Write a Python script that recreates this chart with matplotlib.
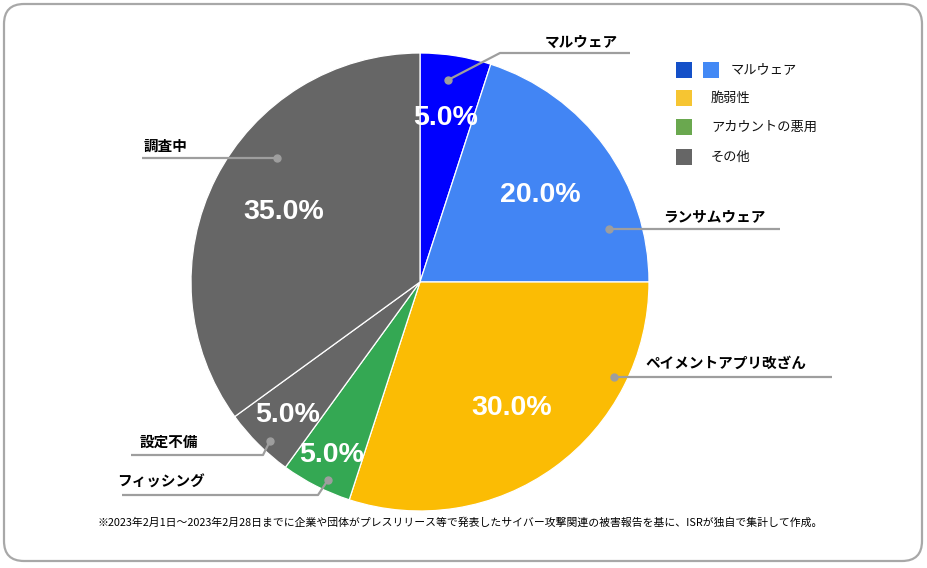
import matplotlib
matplotlib.use("Agg")
import matplotlib.pyplot as plt
from matplotlib.patches import FancyBboxPatch, Rectangle
import numpy as np

# ---- data ----
categories = ["マルウェア", "ランサムウェア", "ペイメントアプリ改ざん", "フィッシング", "設定不備", "調査中"]
values = [5.0, 20.0, 30.0, 5.0, 5.0, 35.0]
slice_colors = ["#0000FF", "#4285F4", "#FBBC04", "#34A853", "#666666", "#666666"]
legend_labels = ["マルウェア", "脆弱性", "アカウントの悪用", "その他"]
legend_colors = [["#1450C8", "#4389F5"], ["#F6C532"], ["#6AA84F"], ["#666666"]]
footnote = "※2023年2月1日～2023年2月28日までに企業や団体がプレスリリース等で発表したサイバー攻撃関連の被害報告を基に、ISRが独自で集計して作成。"

W, H = 927, 568
JP = ["Noto Sans CJK JP", "DejaVu Sans"]
NUM = ["Liberation Sans", "DejaVu Sans"]

fig = plt.figure(figsize=(W / 100, H / 100), dpi=100)
ax = fig.add_axes([0, 0, 1, 1])
ax.set_xlim(0, W)
ax.set_ylim(0, H)
ax.set_aspect("equal")
ax.axis("off")

def Y(y):
    return H - y

# frame
frame = FancyBboxPatch((4, Y(561)), 918, 557, boxstyle="round,pad=0,rounding_size=20",
                       fill=False, edgecolor="#A8A8A8", linewidth=1.6)
ax.add_patch(frame)

# pie
cx, cy, R = 420, 282, 229
wedges, _ = ax.pie(values, colors=slice_colors, startangle=90, counterclock=False,
                   center=(cx, Y(cy)), radius=R,
                   wedgeprops=dict(edgecolor="white", linewidth=0.9))
ax.set_xlim(0, W)
ax.set_ylim(0, H)
ax.axis("off")

# percentage labels
pct_dist = [0.725, 0.65, 0.68, 0.85, 0.82, 0.67]
for w, v, d in zip(wedges, values, pct_dist):
    mid = np.deg2rad((w.theta1 + w.theta2) / 2)
    x = cx + d * R * np.cos(mid)
    y = Y(cy) + d * R * np.sin(mid)
    ax.text(x, y, f"{v:.1f}%", color="white", fontsize=20.5, fontweight="bold",
            family=NUM, ha="center", va="center")

# leader lines: (dot, path..., text position)
lc = "#9E9E9E"
leaders = [
    ([(448, 80), (500, 53), (630, 53)], (581, 42)),
    ([(609, 229), (780, 229)], (714, 216)),
    ([(614, 377), (832, 377)], (726, 363)),
    ([(328, 480), (318, 495), (122, 495)], (161, 482)),
    ([(270, 441), (263, 455), (131, 455)], (169, 442)),
    ([(277, 158), (142, 158)], (166, 146)),
]
for cat, (pts, tpos) in zip(categories, leaders):
    xs = [p[0] for p in pts]
    ys = [Y(p[1]) for p in pts]
    ax.plot(xs, ys, color=lc, linewidth=1.6, solid_capstyle="butt")
    ax.plot(xs[0], ys[0], "o", color=lc, markersize=5)
    ax.text(tpos[0], Y(tpos[1]), cat, family=JP, fontsize=10.5, fontweight="bold",
            ha="center", va="center", color="black")

# legend
rows_y = [70, 98, 127, 157]
for lab, cols, ry in zip(legend_labels, legend_colors, rows_y):
    x0 = 676
    for c in cols:
        ax.add_patch(Rectangle((x0, Y(ry) - 8), 16, 16, facecolor=c, edgecolor="none"))
        x0 += 27
    tx = 731 if len(cols) > 1 else 711
    ax.text(tx, Y(ry), lab, family=JP, fontsize=9.5, ha="left", va="center", color="#111111")

# footnote
ax.text(460, Y(523), footnote, family=JP, fontsize=7.8, ha="center", va="center", color="black")

fig.savefig("out.png", dpi=100)
